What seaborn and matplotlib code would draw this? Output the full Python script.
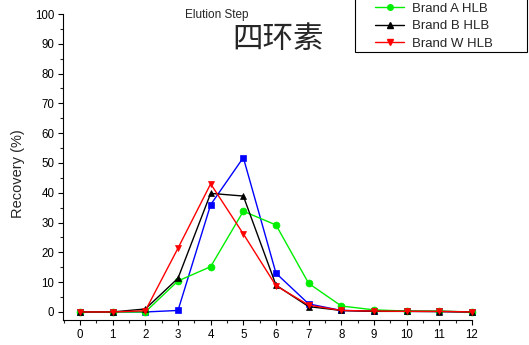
import matplotlib
matplotlib.use("Agg")
import matplotlib.pyplot as plt
from matplotlib.ticker import MultipleLocator
from matplotlib.lines import Line2D
from matplotlib.patches import Rectangle
import seaborn as sns
import pandas as pd

steps = list(range(13))
brand_blue = [0, 0, 0, 0.5, 36, 51.8, 13, 2.7, 0.5, 0.3, 0.2, 0.2, 0]
brand_a = [0, 0, 0, 10.4, 15.2, 33.8, 29.2, 9.6, 2.0, 0.7, 0.3, 0.3, 0]
brand_b = [0, 0, 1.0, 11.3, 39.8, 38.9, 9.0, 1.8, 0.5, 0.2, 0.2, 0.1, 0]
brand_w = [0, 0, 0.4, 21.4, 43.0, 26.2, 8.8, 2.3, 0.5, 0.3, 0.2, 0.2, 0]

series_names = ["Brand blue", "Brand A HLB", "Brand B HLB", "Brand W HLB"]
series_values = [brand_blue, brand_a, brand_b, brand_w]
colors = ["#0000FF", "#00EE00", "#000000", "#FF0000"]
markers = ["s", "o", "^", "v"]
legend_names = ["Brand A HLB", "Brand B HLB", "Brand W HLB"]

df = pd.DataFrame(
    [(s, x, v) for s, vals in zip(series_names, series_values) for x, v in zip(steps, vals)],
    columns=["series", "step", "recovery"],
)

sns.set_style("ticks")
plt.rcParams["font.family"] = ["Liberation Sans", "DejaVu Sans"]

W, H = 529, 345
fig = plt.figure(figsize=(W / 100, H / 100), dpi=100)
ax = fig.add_axes([63 / W, 1 - 320 / H, (472 - 63) / W, (320 - 14) / H])

sns.lineplot(
    data=df, x="step", y="recovery", hue="series", style="series",
    hue_order=series_names, style_order=series_names,
    palette=dict(zip(series_names, colors)),
    markers=dict(zip(series_names, markers)),
    dashes=False, linewidth=1.0, markersize=5, markeredgewidth=0.5,
    legend=False, ax=ax,
)
for line, c in zip(ax.lines, colors):
    line.set_markeredgecolor(c)
    line.set_clip_on(False)

ax.set_xlim(-0.52, 12)
ax.set_ylim(-2.7, 100)
ax.xaxis.set_major_locator(MultipleLocator(1))
ax.xaxis.set_minor_locator(MultipleLocator(0.5))
ax.yaxis.set_major_locator(MultipleLocator(10))
ax.yaxis.set_minor_locator(MultipleLocator(5))
ax.tick_params(which="major", length=3.8, width=0.8, labelsize=8.3, direction="out",
               colors="black", pad=2.5)
ax.tick_params(which="minor", length=2, width=0.8, direction="out")
for side in ["top", "right"]:
    ax.spines[side].set_visible(False)
for side in ["left", "bottom"]:
    ax.spines[side].set_linewidth(0.8)
    ax.spines[side].set_color("black")

ax.set_xlabel("")
ax.set_ylabel("Recovery (%)", fontsize=10.5)
ax.yaxis.set_label_coords((25 - 63) / 409, (320 - 174) / 306)

fig.text(185 / W, 1 - 15 / H, "Elution Step", fontsize=8.5, va="center", ha="left")
fig.text(278 / W, 1 - 39 / H, "四环素", fontsize=22, va="center", ha="center",
         family=["Noto Sans CJK SC", "DejaVu Sans"], fontweight="light")

# legend frame, running past the top edge of the figure
fig.patches.append(Rectangle((355 / W, 1 - 52 / H), 172 / W, 60 / H,
                             transform=fig.transFigure, facecolor="white",
                             edgecolor="black", linewidth=0.8, zorder=5))
handles = [Line2D([], [], color=c, marker=m, markersize=4, linewidth=1.0,
                  markeredgecolor=c)
           for c, m in zip(colors[1:], markers[1:])]
leg = fig.legend(
    handles, legend_names, loc="lower left",
    bbox_to_anchor=(375 / W, 1 - 50 / H), bbox_transform=fig.transFigure,
    borderaxespad=0, fontsize=9.5, frameon=False,
    handlelength=2.2, handletextpad=0.6, labelspacing=0.4, borderpad=0.0,
)
leg.set_zorder(6)

fig.savefig("out.png", dpi=100)
